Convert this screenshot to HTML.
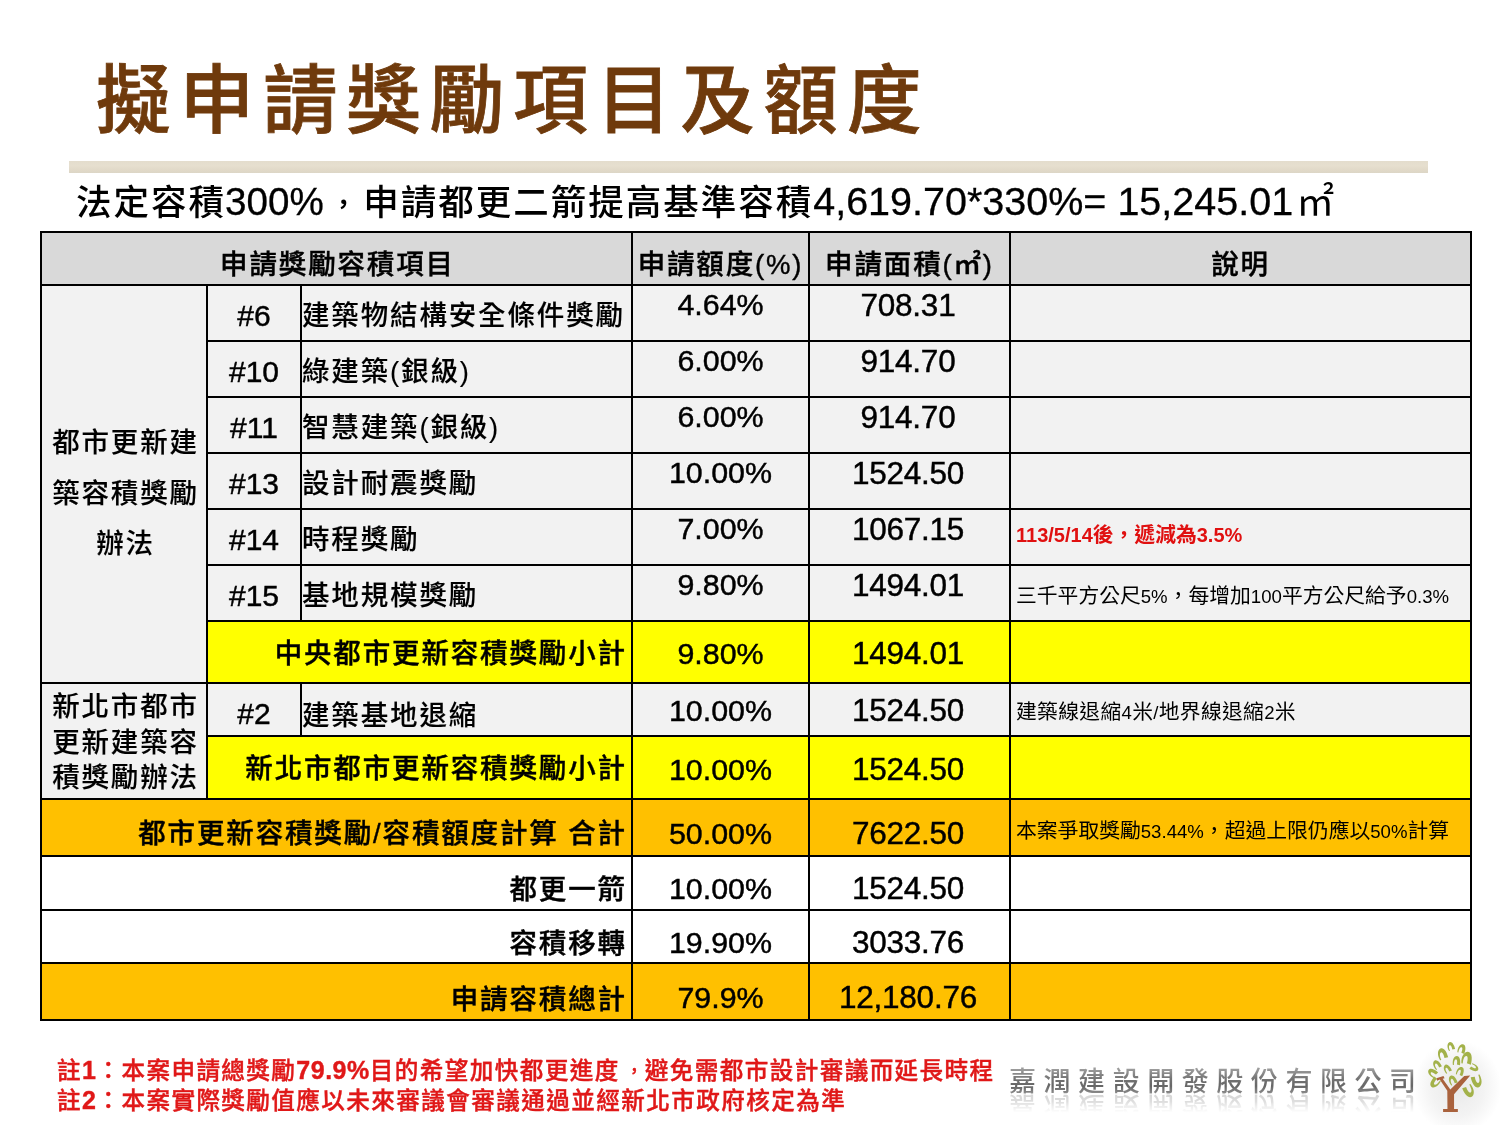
<!DOCTYPE html>
<html lang="zh-Hant">
<head>
<meta charset="utf-8">
<title>擬申請獎勵項目及額度</title>
<style>
html,body{margin:0;padding:0;background:#fff;}
body{width:1500px;height:1125px;position:relative;overflow:hidden;font-family:"Liberation Sans", "Noto Sans CJK TC", sans-serif;color:#000;}
.abs{position:absolute;}
.bg{position:absolute;}
.ln{position:absolute;background:#000;}
.t{position:absolute;white-space:nowrap;line-height:1;}
.title{left:96px;top:65px;font-size:74.5px;font-weight:500;-webkit-text-stroke:0.8px #6f3a0c;color:#6f3a0c;letter-spacing:8.95px;}
.bar{position:absolute;left:69px;top:161px;width:1359px;height:12px;background:linear-gradient(180deg,#e4ddcd 0%,#e6dfcf 40%,#e1d9c8 75%,#dcd6c6 100%);}
.sub{left:76px;top:181px;font-size:35.5px;font-weight:500;letter-spacing:2px;height:40px;line-height:40px;}
.sub s{text-decoration:none;display:inline-block;width:39.5px;text-align:center;font-size:25px;letter-spacing:0;position:relative;top:-2px;font-weight:700}
.sub u{text-decoration:none;font-size:38px;font-weight:400;margin-left:3px;letter-spacing:0}
.sub i{font-style:normal;font-size:39.5px;letter-spacing:0;font-weight:400;-webkit-text-stroke:0.3px #000;}
.c{font-size:27.5px;font-weight:500;letter-spacing:1.85px;-webkit-text-stroke:0.12px #000;}
.cb{font-weight:500;-webkit-text-stroke:0.4px #000;}
.n{font-size:30px;font-weight:400;-webkit-text-stroke:0.45px #000;}
.p{font-size:30.4px;}
.a{font-size:31.5px;letter-spacing:-0.25px;}
.s{font-size:20.8px;font-weight:400;}
.s i{font-style:normal;font-size:18.6px;}
.s b i{font-size:20px;}
.note{left:57px;font-size:23.6px;font-weight:500;-webkit-text-stroke:0.4px #e01818;color:#e01818;letter-spacing:1.4px;}
.logo{font-size:27px;font-weight:500;letter-spacing:7.55px;line-height:34px;height:34px;background:linear-gradient(180deg,#9c9c9c 12%,#747474 40%,#666666 62%,#939393 88%);-webkit-background-clip:text;background-clip:text;color:transparent;-webkit-box-reflect:below -10px linear-gradient(to bottom,rgba(255,255,255,0) 30%,rgba(255,255,255,0.45) 100%);}
.note s{text-decoration:none;display:inline-block;width:25px;text-align:center;font-size:17px;letter-spacing:0;position:relative;top:-2px;left:2px;}
.note i{font-weight:700;font-style:normal;font-size:25px;letter-spacing:0.5px;}
</style>
</head>
<body>

<div class="t title">擬申請獎勵項目及額度</div>
<div class="bar"></div>
<div class="t sub">法定容積<i style="font-size:38.6px;margin-left:-1px">300%</i><s>，</s>申請都更二箭提高基準容積<i>4,619.70*330%= 15,245.01</i><u>㎡</u></div>
<div class="bg" style="left:40px;top:231px;width:1432px;height:53px;background:#d9d9d9"></div>
<div class="bg" style="left:40px;top:284px;width:1432px;height:514px;background:#f2f2f2"></div>
<div class="bg" style="left:206px;top:620px;width:1266px;height:62px;background:#ffff00"></div>
<div class="bg" style="left:206px;top:735px;width:1266px;height:63px;background:#ffff00"></div>
<div class="bg" style="left:40px;top:798px;width:1432px;height:57px;background:#ffc000"></div>
<div class="bg" style="left:40px;top:855px;width:1432px;height:107px;background:#ffffff"></div>
<div class="bg" style="left:40px;top:962px;width:1432px;height:57px;background:#ffc000"></div>
<div class="ln" style="left:40px;top:231px;width:1432px;height:2px"></div>
<div class="ln" style="left:40px;top:284px;width:1432px;height:2px"></div>
<div class="ln" style="left:40px;top:682px;width:1432px;height:2px"></div>
<div class="ln" style="left:40px;top:798px;width:1432px;height:2px"></div>
<div class="ln" style="left:40px;top:855px;width:1432px;height:2px"></div>
<div class="ln" style="left:40px;top:909px;width:1432px;height:2px"></div>
<div class="ln" style="left:40px;top:962px;width:1432px;height:2px"></div>
<div class="ln" style="left:40px;top:1019px;width:1432px;height:2px"></div>
<div class="ln" style="left:206px;top:340px;width:1266px;height:2px"></div>
<div class="ln" style="left:206px;top:396px;width:1266px;height:2px"></div>
<div class="ln" style="left:206px;top:452px;width:1266px;height:2px"></div>
<div class="ln" style="left:206px;top:508px;width:1266px;height:2px"></div>
<div class="ln" style="left:206px;top:564px;width:1266px;height:2px"></div>
<div class="ln" style="left:206px;top:620px;width:1266px;height:2px"></div>
<div class="ln" style="left:206px;top:735px;width:1266px;height:2px"></div>
<div class="ln" style="left:40px;top:231px;width:2px;height:790px"></div>
<div class="ln" style="left:1470px;top:231px;width:2px;height:790px"></div>
<div class="ln" style="left:631px;top:231px;width:2px;height:790px"></div>
<div class="ln" style="left:808px;top:231px;width:2px;height:790px"></div>
<div class="ln" style="left:1009px;top:231px;width:2px;height:790px"></div>
<div class="ln" style="left:206px;top:284px;width:2px;height:514px"></div>
<div class="ln" style="left:300px;top:284px;width:2px;height:336px"></div>
<div class="ln" style="left:300px;top:682px;width:2px;height:53px"></div>
<div class="t c cb" style="left:44px;width:587px;top:245px;height:40px;line-height:40px;text-align:center;">申請獎勵容積項目</div>
<div class="t c cb" style="left:633px;width:175px;top:245px;height:40px;line-height:40px;text-align:center;">申請額度(%)</div>
<div class="t c cb" style="left:810px;width:199px;top:245px;height:40px;line-height:40px;text-align:center;">申請面積(㎡)</div>
<div class="t c cb" style="left:1011px;width:459px;top:245px;height:40px;line-height:40px;text-align:center;">說明</div>
<div class="t n" style="left:208px;width:92px;top:295.5px;height:40px;line-height:40px;text-align:center;">#6</div>
<div class="t c" style="left:302px;width:329px;top:296px;height:40px;line-height:40px;text-align:left;">建築物結構安全條件獎勵</div>
<div class="t n p" style="left:633px;width:175px;top:284px;height:40px;line-height:40px;text-align:center;">4.64%</div>
<div class="t n a" style="left:808.5px;width:199px;top:284.5px;height:40px;line-height:40px;text-align:center;">708.31</div>
<div class="t n" style="left:208px;width:92px;top:351.5px;height:40px;line-height:40px;text-align:center;">#10</div>
<div class="t c" style="left:302px;width:329px;top:352px;height:40px;line-height:40px;text-align:left;">綠建築(銀級)</div>
<div class="t n p" style="left:633px;width:175px;top:340px;height:40px;line-height:40px;text-align:center;">6.00%</div>
<div class="t n a" style="left:808.5px;width:199px;top:340.5px;height:40px;line-height:40px;text-align:center;">914.70</div>
<div class="t n" style="left:208px;width:92px;top:407.5px;height:40px;line-height:40px;text-align:center;">#11</div>
<div class="t c" style="left:302px;width:329px;top:408px;height:40px;line-height:40px;text-align:left;">智慧建築(銀級)</div>
<div class="t n p" style="left:633px;width:175px;top:396px;height:40px;line-height:40px;text-align:center;">6.00%</div>
<div class="t n a" style="left:808.5px;width:199px;top:396.5px;height:40px;line-height:40px;text-align:center;">914.70</div>
<div class="t n" style="left:208px;width:92px;top:463.5px;height:40px;line-height:40px;text-align:center;">#13</div>
<div class="t c" style="left:302px;width:329px;top:464px;height:40px;line-height:40px;text-align:left;">設計耐震獎勵</div>
<div class="t n p" style="left:633px;width:175px;top:452px;height:40px;line-height:40px;text-align:center;">10.00%</div>
<div class="t n a" style="left:808.5px;width:199px;top:452.5px;height:40px;line-height:40px;text-align:center;">1524.50</div>
<div class="t n" style="left:208px;width:92px;top:519.5px;height:40px;line-height:40px;text-align:center;">#14</div>
<div class="t c" style="left:302px;width:329px;top:520px;height:40px;line-height:40px;text-align:left;">時程獎勵</div>
<div class="t n p" style="left:633px;width:175px;top:508px;height:40px;line-height:40px;text-align:center;">7.00%</div>
<div class="t n a" style="left:808.5px;width:199px;top:508.5px;height:40px;line-height:40px;text-align:center;">1067.15</div>
<div class="t s" style="left:1016px;width:454px;top:515px;height:40px;line-height:40px;text-align:left;"><b style="color:#e01010"><i>113/5/14</i>後，遞減為<i>3.5%</i></b></div>
<div class="t n" style="left:208px;width:92px;top:575.5px;height:40px;line-height:40px;text-align:center;">#15</div>
<div class="t c" style="left:302px;width:329px;top:576px;height:40px;line-height:40px;text-align:left;">基地規模獎勵</div>
<div class="t n p" style="left:633px;width:175px;top:564px;height:40px;line-height:40px;text-align:center;">9.80%</div>
<div class="t n a" style="left:808.5px;width:199px;top:564.5px;height:40px;line-height:40px;text-align:center;">1494.01</div>
<div class="t s" style="left:1016px;width:454px;top:576px;height:40px;line-height:40px;text-align:left;">三千平方公尺<i>5%</i>，每增加<i>100</i>平方公尺給予<i>0.3%</i></div>
<div class="t c cb" style="left:208px;width:418.85px;top:633.5px;height:40px;line-height:40px;text-align:right;">中央都市更新容積獎勵小計</div>
<div class="t n p" style="left:633px;width:175px;top:633px;height:40px;line-height:40px;text-align:center;">9.80%</div>
<div class="t n a" style="left:808.5px;width:199px;top:633px;height:40px;line-height:40px;text-align:center;">1494.01</div>
<div class="t n" style="left:208px;width:92px;top:693.5px;height:40px;line-height:40px;text-align:center;">#2</div>
<div class="t c" style="left:302px;width:329px;top:695.5px;height:40px;line-height:40px;text-align:left;">建築基地退縮</div>
<div class="t n p" style="left:633px;width:175px;top:689.5px;height:40px;line-height:40px;text-align:center;">10.00%</div>
<div class="t n a" style="left:808.5px;width:199px;top:689.5px;height:40px;line-height:40px;text-align:center;">1524.50</div>
<div class="t s" style="left:1016px;width:454px;top:691.5px;height:40px;line-height:40px;text-align:left;letter-spacing:0.3px;">建築線退縮<i>4</i>米<i>/</i>地界線退縮<i>2</i>米</div>
<div class="t c cb" style="left:208px;width:418.85px;top:748.5px;height:40px;line-height:40px;text-align:right;">新北市都市更新容積獎勵小計</div>
<div class="t n p" style="left:633px;width:175px;top:748.5px;height:40px;line-height:40px;text-align:center;">10.00%</div>
<div class="t n a" style="left:808.5px;width:199px;top:748.5px;height:40px;line-height:40px;text-align:center;">1524.50</div>
<div class="t c cb" style="left:42px;width:584.85px;top:813.9px;height:40px;line-height:40px;text-align:right;">都市更新容積獎勵/容積額度計算 合計</div>
<div class="t n p" style="left:633px;width:175px;top:812.5px;height:40px;line-height:40px;text-align:center;">50.00%</div>
<div class="t n a" style="left:808.5px;width:199px;top:812.5px;height:40px;line-height:40px;text-align:center;">7622.50</div>
<div class="t s" style="left:1016px;width:454px;top:810.5px;height:40px;line-height:40px;text-align:left;">本案爭取獎勵<i>53.44%</i>，超過上限仍應以<i>50%</i>計算</div>
<div class="t c cb" style="left:42px;width:584.85px;top:869.6px;height:40px;line-height:40px;text-align:right;">都更一箭</div>
<div class="t n p" style="left:633px;width:175px;top:868px;height:40px;line-height:40px;text-align:center;">10.00%</div>
<div class="t n a" style="left:808.5px;width:199px;top:868px;height:40px;line-height:40px;text-align:center;">1524.50</div>
<div class="t c cb" style="left:42px;width:584.85px;top:923.5px;height:40px;line-height:40px;text-align:right;">容積移轉</div>
<div class="t n p" style="left:633px;width:175px;top:921.5px;height:40px;line-height:40px;text-align:center;">19.90%</div>
<div class="t n a" style="left:808.5px;width:199px;top:921.5px;height:40px;line-height:40px;text-align:center;">3033.76</div>
<div class="t c cb" style="left:42px;width:584.85px;top:980px;height:40px;line-height:40px;text-align:right;">申請容積總計</div>
<div class="t n p" style="left:633px;width:175px;top:976.5px;height:40px;line-height:40px;text-align:center;">79.9%</div>
<div class="t n a" style="left:808.5px;width:199px;top:976.5px;height:40px;line-height:40px;text-align:center;">12,180.76</div>
<div class="t c" style="left:45px;width:161px;top:423.3px;height:40px;line-height:40px;text-align:center;">都市更新建</div>
<div class="t c" style="left:45px;width:161px;top:473.6px;height:40px;line-height:40px;text-align:center;">築容積獎勵</div>
<div class="t c" style="left:45px;width:161px;top:523.9px;height:40px;line-height:40px;text-align:center;">辦法</div>
<div class="t c" style="left:45px;width:161px;top:687px;height:40px;line-height:40px;text-align:center;">新北市都市</div>
<div class="t c" style="left:45px;width:161px;top:722.6px;height:40px;line-height:40px;text-align:center;">更新建築容</div>
<div class="t c" style="left:45px;width:161px;top:758.2px;height:40px;line-height:40px;text-align:center;">積獎勵辦法</div>
<div class="t note" style="top:1058px">註<i>1</i>：本案申請總獎勵<i>79.9%</i>目的希望加快都更進度<s>，</s>避免需都市設計審議而延長時程</div>
<div class="t note" style="top:1088px">註<i>2</i>：本案實際獎勵值應以未來審議會審議通過並經新北市政府核定為準</div>
<div class="t logo" style="left:1009px;top:1064.5px;">嘉潤建設開發股份有限公司</div>
<svg class="abs" style="left:1400px;top:1030px" width="100" height="95" viewBox="0 0 1184 1125">
<defs><radialGradient id="glow" cx="0.5" cy="0.5" r="0.5"><stop offset="0" stop-color="#e9e9e9"/><stop offset="0.6" stop-color="#f3f3f3"/><stop offset="1" stop-color="#ffffff"/></radialGradient></defs>
<ellipse cx="680" cy="680" rx="520" ry="560" fill="url(#glow)"/>
<path fill="#a9623d" d="M510,935H685V972H510Z M562,940L560,720L470,585L440,600L430,572L515,545L528,570L505,578L596,705L760,545L832,538L640,760L640,940Z"/>
<path fill="#a3b24a" transform="translate(600,195) rotate(-22) scale(0.9)" d="M-42,48C-52,-20 -22,-58 5,-58C38,-58 52,-10 42,52L6,44C13,5 8,-20 -5,-20C-20,-20 -31,5 -30,50Z"/>
<path fill="#a3b24a" transform="translate(730,225) rotate(12) scale(1)" d="M-42,48C-52,-20 -22,-58 5,-58C38,-58 52,-10 42,52L6,44C13,5 8,-20 -5,-20C-20,-20 -31,5 -30,50Z"/>
<path fill="#a3b24a" transform="translate(500,285) rotate(-22) scale(1.2)" d="M-42,48C-52,-20 -22,-58 5,-58C38,-58 52,-10 42,52L6,44C13,5 8,-20 -5,-20C-20,-20 -31,5 -30,50Z"/>
<path fill="#a3b24a" transform="translate(790,335) rotate(6) scale(1.35)" d="M-42,48C-52,-20 -22,-58 5,-58C38,-58 52,-10 42,52L6,44C13,5 8,-20 -5,-20C-20,-20 -31,5 -30,50Z"/>
<path fill="#a3b24a" transform="translate(668,365) rotate(0) scale(1)" d="M-42,48C-52,-20 -22,-58 5,-58C38,-58 52,-10 42,52L6,44C13,5 8,-20 -5,-20C-20,-20 -31,5 -30,50Z"/>
<path fill="#a3b24a" transform="translate(435,412) rotate(-35) scale(0.95)" d="M-42,48C-52,-20 -22,-58 5,-58C38,-58 52,-10 42,52L6,44C13,5 8,-20 -5,-20C-20,-20 -31,5 -30,50Z"/>
<path fill="#a3b24a" transform="translate(558,460) rotate(-32) scale(0.9)" d="M-42,48C-52,-20 -22,-58 5,-58C38,-58 52,-10 42,52L6,44C13,5 8,-20 -5,-20C-20,-20 -31,5 -30,50Z"/>
<path fill="#a3b24a" transform="translate(712,490) rotate(16) scale(0.95)" d="M-42,48C-52,-20 -22,-58 5,-58C38,-58 52,-10 42,52L6,44C13,5 8,-20 -5,-20C-20,-20 -31,5 -30,50Z"/>
<path fill="#a3b24a" transform="translate(880,445) rotate(115) scale(0.9)" d="M-42,48C-52,-20 -22,-58 5,-58C38,-58 52,-10 42,52L6,44C13,5 8,-20 -5,-20C-20,-20 -31,5 -30,50Z"/>
<path fill="#a3b24a" transform="translate(385,510) rotate(-58) scale(1)" d="M-42,48C-52,-20 -22,-58 5,-58C38,-58 52,-10 42,52L6,44C13,5 8,-20 -5,-20C-20,-20 -31,5 -30,50Z"/>
<path fill="#a3b24a" transform="translate(415,625) rotate(215) scale(1.1)" d="M-42,48C-52,-20 -22,-58 5,-58C38,-58 52,-10 42,52L6,44C13,5 8,-20 -5,-20C-20,-20 -31,5 -30,50Z"/>
<path fill="#a3b24a" transform="translate(622,595) rotate(-28) scale(1)" d="M-42,48C-52,-20 -22,-58 5,-58C38,-58 52,-10 42,52L6,44C13,5 8,-20 -5,-20C-20,-20 -31,5 -30,50Z"/>
<path fill="#a3b24a" transform="translate(912,605) rotate(160) scale(1.3)" d="M-42,48C-52,-20 -22,-58 5,-58C38,-58 52,-10 42,52L6,44C13,5 8,-20 -5,-20C-20,-20 -31,5 -30,50Z"/>
<path fill="#a3b24a" transform="translate(818,722) rotate(150) scale(1.3)" d="M-42,48C-52,-20 -22,-58 5,-58C38,-58 52,-10 42,52L6,44C13,5 8,-20 -5,-20C-20,-20 -31,5 -30,50Z"/>
</svg>
</body>
</html>
